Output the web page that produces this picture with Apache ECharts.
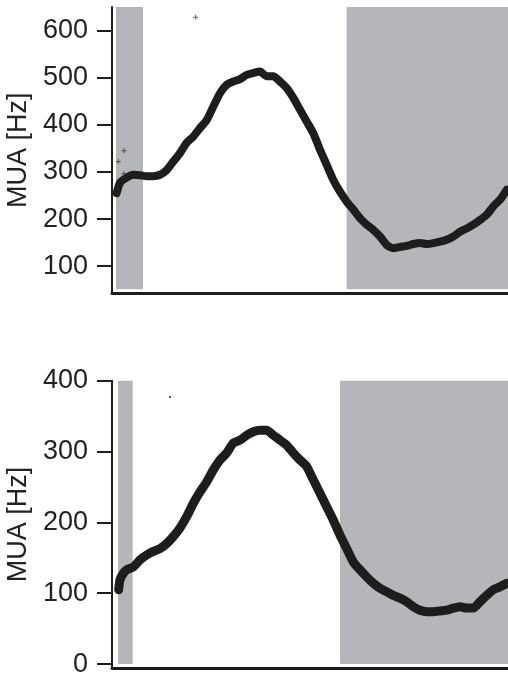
<!DOCTYPE html>
<html>
<head>
<meta charset="utf-8">
<script src="https://cdn.jsdelivr.net/npm/echarts@6/dist/echarts.min.js"></script>
<style>
html,body{margin:0;padding:0;background:#fff;}
#chart{width:508px;height:675px;}
</style>
</head>
<body>
<div id="chart"></div>
<script>
// sample index (x) and MUA values [Hz]
var topX = [2.5,3,4,5,6,7,8,9,10,11,12,13,14,15,16,17,18,19,20,21,22,23,24,25,26,27,28,29,30,31,32,33,34,35,36,37,38,39,40,41,42,43,44,45,46,47,48,49,50,51,52,53,54,55,56,57,58,59,60,61];
var topY = [255,277,288,294,293,291,291,294,304,322,340,362,375,393,410,439,467,485,492,497,506,510,513,503,503,492,478,457,432,407,382,347,315,283,258,237,220,202,188,177,163,145,138,141,143,147,149,147,149,152,156,163,173,180,188,198,209,227,241,262];
var botX = [2.8,3,3.5,4,5,6,7,8,9,10,11,12,13,14,15,16,17,18,19,20,21,22,23,24,25,26,27,28,29,30,31,32,33,34,35,36,37,38,39,40,41,42,43,44,45,46,47,48,49,50,51,52,53,54,55,56,57,58,59,60,61];
var botY = [105,119,128,133,137,147,154,159,163,170,180,192,208,227,243,257,274,288,298,312,316,323,328,330,330,323,316,309,298,288,279,260,241,222,203,182,163,144,133,123,114,107,102,97,93,88,81,76,74,74,75,76,79,81,79,79,88,97,105,109,114];
// isolated outlier samples
var topOutX = [2.75, 3.6, 3.6, 14.35];
var topOutY = [322, 345, 296, 628];
var botOutX = [10.5];
var botOutY = [377];
// shaded epochs [xStart, xEnd]
var topShade = [[2.4, 6.45], [37.0, 61.2]];
var botShade = [[2.7, 4.9], [36.0, 61.2]];
var topShadeY = [51, 650];
var botShadeY = [0, 400];
// tick labels
var topTicks = [100, 200, 300, 400, 500, 600];
var botTicks = [0, 100, 200, 300, 400];

function pairs(xs, ys){ return xs.map(function(x,i){ return [x, ys[i]]; }); }
function shades(list, yr){
  return list.map(function(s){ return [{xAxis:s[0], yAxis:yr[0]}, {xAxis:s[1], yAxis:yr[1]}]; });
}

var FONT = "'Liberation Sans', Arial, Helvetica, sans-serif";
var INK = '#1e1c1c';
var GRAY = '#b5b6ba';
var plus = 'path://M2,0H3V2H5V3H3V5H2V3H0V2H2Z';

function xAx(idx){
  return {
    type:'value', gridIndex: idx, min:1.8, max:61.2,
    axisLine:{show:true, onZero:false, lineStyle:{color:INK, width:3}},
    axisTick:{show:false}, axisLabel:{show:false}, splitLine:{show:false}
  };
}
function yAx(idx, mn, mx, ticks){
  return {
    type:'value', gridIndex: idx, min:mn, max:mx,
    name:'MUA [Hz]', nameLocation:'middle', nameGap:77, nameRotate:90,
    nameTextStyle:{fontFamily:FONT, fontSize:27, color:'#222'},
    axisLine:{show:true, onZero:false, lineStyle:{color:INK, width:2}},
    axisTick:{show:true, length:15, customValues:ticks, lineStyle:{color:INK, width:2}},
    axisLabel:{show:true, margin:24, customValues:ticks, fontFamily:FONT, fontSize:27, color:'#222'},
    splitLine:{show:false}
  };
}

var chart = echarts.init(document.getElementById('chart'), null, {renderer:'canvas'});
chart.setOption({
  animation:false,
  backgroundColor:'#fff',
  grid:[
    {left:112, right:0, top:7, height:286.5, containLabel:false, outerBoundsMode:'none'},
    {left:112, right:0, top:380.7, height:287.6, containLabel:false, outerBoundsMode:'none'}
  ],
  xAxis:[xAx(0), xAx(1)],
  yAxis:[yAx(0, 42, 650, topTicks), yAx(1, -6, 400, botTicks)],
  series:[
    {type:'line', xAxisIndex:0, yAxisIndex:0, data:[], z:1, silent:true,
     markArea:{silent:true, itemStyle:{color:GRAY}, label:{show:false}, data:shades(topShade, topShadeY)}},
    {type:'line', xAxisIndex:1, yAxisIndex:1, data:[], z:1, silent:true,
     markArea:{silent:true, itemStyle:{color:GRAY}, label:{show:false}, data:shades(botShade, botShadeY)}},
    {type:'line', xAxisIndex:0, yAxisIndex:0, data:pairs(topX, topY), z:3, showSymbol:false, symbol:'none',
     smooth:0.2, lineStyle:{color:INK, width:8, join:'round', cap:'round'}},
    {type:'line', xAxisIndex:1, yAxisIndex:1, data:pairs(botX, botY), z:3, showSymbol:false, symbol:'none',
     smooth:0.2, lineStyle:{color:INK, width:9, join:'round', cap:'round'}},
    {type:'scatter', xAxisIndex:0, yAxisIndex:0, data:pairs(topOutX, topOutY), z:4,
     symbol:plus, symbolSize:5, itemStyle:{color:'#333'}},
    {type:'scatter', xAxisIndex:1, yAxisIndex:1, data:pairs(botOutX, botOutY), z:4,
     symbol:'rect', symbolSize:2, itemStyle:{color:'#333'}}
  ]
});
</script>
</body>
</html>
